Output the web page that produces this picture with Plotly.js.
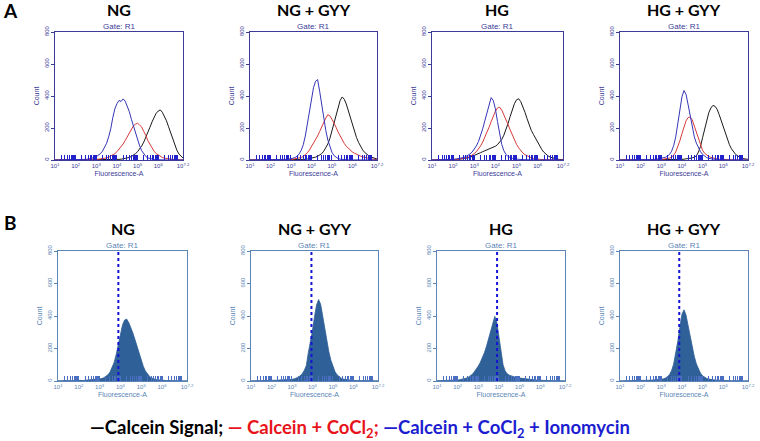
<!DOCTYPE html>
<html><head><meta charset="utf-8">
<script src="https://cdn.plot.ly/plotly-3.0.1.min.js"></script>
<style>html,body{margin:0;padding:0;background:#fff}#chart{width:760px;height:441px}</style>
</head><body><div id="chart"></div>
<script>
// Bin centres, log10 of Fluorescence-A
const binLog = [
 1.0,1.1,1.2,1.3,1.4,1.5,1.6,1.7,1.8,1.9,
 2.0,2.1,2.2,2.3,2.4,2.5,2.6,2.7,2.8,2.9,
 3.0,3.1,3.2,3.3,3.4,3.5,3.6,3.7,3.8,3.9,
 4.0,4.1,4.2,4.3,4.4,4.5,4.6,4.7,4.8,4.9,
 5.0,5.1,5.2,5.3,5.4,5.5,5.6,5.7,5.8,5.9,
 6.0,6.1,6.2,6.3,6.4,6.5,6.6,6.7,6.8,6.9,
 7.0,7.1,7.2];

const panelTitles = ["NG", "NG + GYY", "HG", "HG + GYY"];
const xTickLogs = [1, 2, 3, 4, 5, 6, 7.2];
const xTickLabels = ["10<sup>1</sup>","10<sup>2</sup>","10<sup>3</sup>","10<sup>4</sup>","10<sup>5</sup>","10<sup>6</sup>","10<sup>7.2</sup>"];
const yTickVals = [0, 200, 400, 600, 800];
const yTickLabels = ["0", "200", "400", "600", "800"];

// Panel A: Calcein signal (black)
const signalNG = [0,0,0,0,1,0,0,0,0,0, 0,0,1,0,0,1,0,1,1,1, 1,1,2,1,2,2,2,3,3,3, 3,4,5,7,9,12,16,22,30,40, 52,68,88,112,140,172,205,238,268,292, 306,313,298,276,245,208,168,128,92,62, 38,22,12];
const signalNGGYY = [0,0,0,0,0,0,1,0,0,0, 0,0,0,1,0,1,1,1,1,1, 1,1,2,1,2,2,3,4,6,8, 11,14,18,23,30,40,55,74,100,135, 180,230,280,330,372,394,380,350,305,258, 215,175,140,110,85,63,47,35,26,19, 13,9,6];
const signalHG = [0,0,0,1,0,1,1,1,2,2, 2,3,4,5,6,8,10,13,17,22, 28,34,40,46,52,57,62,66,72,78, 86,96,110,128,155,188,228,272,315,352, 376,383,365,335,298,258,218,185,160,135, 110,86,65,48,35,25,18,13,9,6, 4,3,2];
const signalHGGYY = [0,0,0,0,0,1,0,0,0,0, 0,0,0,1,0,0,1,0,1,1, 1,1,1,2,1,2,2,3,3,3, 4,5,6,8,10,13,18,26,50,85, 140,195,250,295,325,341,336,318,285,245, 205,165,128,96,70,50,35,25,17,12, 8,6,4];

// Panel A: Calcein + CoCl2 (red)
const cocl2NG = [0,0,0,1,0,0,0,1,0,0, 0,1,0,1,1,1,2,2,3,3, 4,5,6,8,10,13,17,23,30,40, 52,66,82,100,122,145,170,188,214,224, 230,218,206,178,154,120,96,70,55,40, 30,22,16,12,9,7,5,4,3,2, 2,1,1];
const cocl2NGGYY = [0,0,0,0,0,1,0,0,0,0, 1,0,1,1,1,2,2,2,3,3, 4,5,7,9,12,16,22,32,45,62, 82,104,126,150,178,208,235,262,283,276, 255,232,205,175,148,125,104,86,72,60, 50,42,35,29,24,20,16,13,10,7, 5,3,2];
const cocl2HG = [0,0,0,0,1,0,1,1,1,2, 2,3,4,5,7,9,12,16,22,30, 40,52,68,88,112,140,172,205,240,275, 305,325,330,312,285,255,222,188,155,125, 98,76,58,44,33,25,19,14,10,7, 5,4,3,2,2,1,1,1,0,0, 0,0,0];
const cocl2HGGYY = [0,0,0,0,0,0,1,0,0,0, 0,0,1,0,1,1,1,2,2,3, 4,5,7,9,12,18,30,50,80,120, 165,210,245,265,269,250,212,168,125,88, 60,42,30,22,16,12,9,7,5,4, 3,2,2,1,1,0,1,0,0,0, 0,0,0];

// Panel A: Calcein + CoCl2 + Ionomycin (blue)
const ionoNG = [0,0,1,0,0,1,0,0,1,1, 1,1,2,2,3,4,6,8,11,15, 20,28,40,55,78,105,145,195,265,320, 352,372,366,382,368,335,302,255,210,165, 125,88,58,36,22,13,8,5,3,2, 1,1,0,1,0,0,1,0,0,0, 0,0,0];
const ionoNGGYY = [0,0,0,1,0,0,0,0,1,0, 0,1,1,1,2,2,2,3,4,5, 7,10,15,24,38,60,95,150,225,310, 390,452,492,503,430,340,255,185,125,80, 48,28,16,9,5,3,2,1,1,0, 1,0,0,0,1,0,0,0,0,0, 0,0,0];
const ionoHG = [0,0,1,0,1,1,1,2,2,3, 4,5,7,9,12,16,21,28,38,50, 66,88,115,150,195,245,300,350,390,372, 320,240,160,98,58,35,22,15,10,7, 5,4,3,2,2,1,1,1,0,1, 0,0,0,0,0,0,0,0,0,0, 0,0,0];
const ionoHGGYY = [0,0,0,0,1,0,0,0,1,0, 0,1,0,1,1,2,3,4,5,7, 9,12,17,24,35,55,90,145,220,310, 395,434,410,345,270,200,145,105,75,52, 35,23,15,10,7,5,3,2,2,1, 1,0,0,1,0,0,0,0,0,0, 0,0,0];

// Panel B: single-histogram counts
const histNG = [1,2,1,2,2,3,2,3,3,3, 3,4,3,4,5,5,6,7,8,10, 12,15,20,27,38,55,80,115,165,225, 290,345,375,381,360,330,295,255,210,165, 125,90,62,42,28,19,13,9,7,5, 4,4,3,3,2,2,2,2,1,1, 1,1,1];
const histNGGYY = [1,1,2,2,2,3,3,3,4,4, 4,4,5,5,6,6,7,7,8,8, 10,13,17,23,32,45,65,95,175,240, 310,395,468,501,472,400,320,245,180,128, 88,58,38,25,17,12,9,7,5,4, 3,3,3,2,2,2,2,1,1,1, 1,1,1];
const histHG = [2,2,2,3,3,3,4,4,5,5, 6,8,10,13,17,22,30,40,55,72, 92,115,142,175,215,262,315,365,398,360, 265,170,100,62,45,36,30,26,23,20, 18,16,14,12,10,9,8,7,6,5, 4,3,3,3,3,2,2,2,2,1, 1,1,1];
const histHGGYY = [1,1,2,2,2,2,3,3,3,3, 3,4,4,4,4,5,6,7,8,9, 10,13,18,26,40,65,105,165,245,330, 410,438,405,340,268,205,150,105,72,48, 32,22,16,12,9,7,6,5,4,3, 3,3,2,2,2,2,1,1,1,1, 1,1,1];
// Gate marker position (log10) in panel B
const gateLog = [3.90, 3.95, 3.91, 3.87];

const signalSets = [signalNG, signalNGGYY, signalHG, signalHGGYY];
const cocl2Sets = [cocl2NG, cocl2NGGYY, cocl2HG, cocl2HGGYY];
const ionoSets = [ionoNG, ionoNGGYY, ionoHG, ionoHGGYY];
const histSets = [histNG, histNGGYY, histHG, histHGGYY];

const W = 760, H = 441;
const boxA = [[55,183],[250,377],[432,563],[620,748]];
const boxB = [[58,187],[251,378],[437,565],[620,748]];
const rowA = [32,160], rowB = [251,381];
const xVals = binLog.map(v => Math.pow(10, v));

const minorVals = [];
for (let d = 1; d <= 7; d++) for (let m = 2; m <= 9; m++) {
  const v = m * Math.pow(10, d);
  if (Math.log10(v) < 7.2) minorVals.push(v);
}

const colA = '#3c3c98', colB = '#5a85b6';
const traces = [], layout = {
  width: W, height: H, margin: {l:0,r:0,t:0,b:0},
  paper_bgcolor: '#fff', plot_bgcolor: '#fff', showlegend: false,
  annotations: [], shapes: []
};

function axes(idx, box, rows, col, rug) {
  const xs = idx === 1 ? 'xaxis' : 'xaxis' + idx;
  const ys = idx === 1 ? 'yaxis' : 'yaxis' + idx;
  layout[xs] = {
    type: 'log', range: [1, 7.2], domain: [box[0]/W, box[1]/W],
    anchor: 'y' + (idx === 1 ? '' : idx),
    showline: true, mirror: true, linecolor: col, linewidth: 1,
    showgrid: false, zeroline: false,
    tickmode: 'array', tickvals: xTickLogs.map(v => Math.pow(10, v)), ticktext: xTickLabels,
    ticks: 'inside', ticklen: 5, tickcolor: rug, tickwidth: 1,
    tickfont: {family: 'Liberation Sans', size: 6, color: col},
    minor: {tickmode: 'array', tickvals: minorVals, ticks: 'inside', ticklen: 5, tickcolor: rug, tickwidth: 1, showgrid: false},
    title: {text: 'Fluorescence-A', font: {family: 'Liberation Sans', size: 7, color: col}, standoff: 2},
    fixedrange: true
  };
  layout[ys] = {
    range: [0, 800], domain: [1 - rows[1]/H, 1 - rows[0]/H],
    anchor: 'x' + (idx === 1 ? '' : idx),
    showline: true, mirror: true, linecolor: col, linewidth: 1,
    showgrid: false, zeroline: false,
    tickmode: 'array', tickvals: yTickVals, ticktext: yTickLabels, tickangle: -90,
    ticks: 'outside', ticklen: 3, tickcolor: col,
    tickfont: {family: 'Liberation Sans', size: 6, color: col},
    title: {text: 'Count', font: {family: 'Liberation Sans', size: 7, color: col}, standoff: 3},
    fixedrange: true
  };
  layout.annotations.push({
    xref: 'x' + (idx === 1 ? '' : idx) + ' domain', yref: 'y' + (idx === 1 ? '' : idx) + ' domain',
    x: 0.5, y: 1, yanchor: 'bottom', xanchor: 'center', showarrow: false, yshift: -1,
    text: 'Gate: R1', font: {family: 'Liberation Sans', size: 8, color: col}
  });
}

for (let p = 0; p < 4; p++) {
  const idx = p + 1;
  axes(idx, boxA[p], rowA, colA, '#2222cc');
  const xa = 'x' + (idx === 1 ? '' : idx), ya = 'y' + (idx === 1 ? '' : idx);
  const lineDefs = [[signalSets[p], '#1a1a1a'], [cocl2Sets[p], '#d83a3a'], [ionoSets[p], '#3535b8']];
  lineDefs.forEach(([ys, c]) => traces.push({
    type: 'scatter', mode: 'lines', x: xVals, y: ys, xaxis: xa, yaxis: ya,
    line: {color: c, width: 1, shape: 'linear'}, hoverinfo: 'skip'
  }));
  layout.annotations.push({
    xref: 'paper', yref: 'paper', x: (boxA[p][0] + boxA[p][1]) / 2 / W, y: 1 - 10/H,
    xanchor: 'center', yanchor: 'middle', showarrow: false,
    text: '<b>' + panelTitles[p] + '</b>', font: {family: 'Lato', size: 16, color: '#000'}
  });
}
for (let p = 0; p < 4; p++) {
  const idx = p + 5;
  axes(idx, boxB[p], rowB, colB, '#4a6fc0');
  const xa = 'x' + idx, ya = 'y' + idx;
  traces.push({
    type: 'scatter', mode: 'lines', x: xVals, y: histSets[p], xaxis: xa, yaxis: ya,
    line: {color: '#2d5e96', width: 0.8, shape: 'linear'}, fill: 'tozeroy', fillcolor: '#2f6098', hoverinfo: 'skip'
  });
  layout.shapes.push({
    type: 'line', xref: xa, yref: ya + ' domain',
    x0: Math.pow(10, gateLog[p]), x1: Math.pow(10, gateLog[p]), y0: 0, y1: 1,
    line: {color: '#1414d2', width: 2, dash: 'dot'}
  });
  layout.annotations.push({
    xref: 'paper', yref: 'paper', x: (boxB[p][0] + boxB[p][1]) / 2 / W, y: 1 - 228/H,
    xanchor: 'center', yanchor: 'middle', showarrow: false,
    text: '<b>' + panelTitles[p] + '</b>', font: {family: 'Lato', size: 16, color: '#000'}
  });
}

layout.annotations.push({
  xref: 'paper', yref: 'paper', x: 10/W, y: 1 - 11/H, xanchor: 'center', yanchor: 'middle', showarrow: false,
  text: '<b>A</b>', font: {family: 'Lato', size: 19, color: '#000'}
});
layout.annotations.push({
  xref: 'paper', yref: 'paper', x: 10/W, y: 1 - 222/H, xanchor: 'center', yanchor: 'middle', showarrow: false,
  text: '<b>B</b>', font: {family: 'Lato', size: 19, color: '#000'}
});
layout.annotations.push({
  xref: 'paper', yref: 'paper', x: 360/W, y: 1 - 428/H, xanchor: 'center', yanchor: 'middle', showarrow: false,
  text: '<b><span style="color:#000">—Calcein Signal; </span><span style="color:#e8141c">— Calcein + CoCl<sub>2</sub>; </span><span style="color:#1c1cd0">—Calcein + CoCl<sub>2</sub> + Ionomycin</span></b>',
  font: {family: 'Lato', size: 18.5, color: '#000'}
});

Plotly.newPlot('chart', traces, layout, {staticPlot: true, displayModeBar: false});
</script></body></html>
